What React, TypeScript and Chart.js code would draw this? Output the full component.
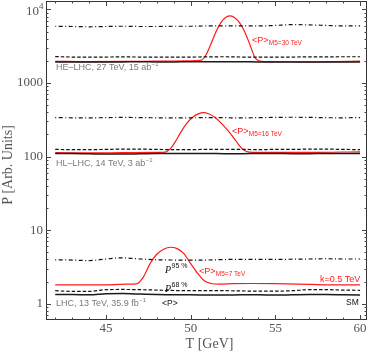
import React, { useEffect, useRef } from "react";
import { Chart, registerables } from "chart.js";

Chart.register(...registerables);

// ---------- data ----------
const T_GRID = [42, 43, 44, 45, 46, 47, 48, 49, 50, 51, 52, 53, 54, 55, 56, 57, 58, 59, 60];

// LHC, 13 TeV
const LHC_MEAN = [1.33, 1.33, 1.32, 1.36, 1.37, 1.35, 1.33, 1.32, 1.32, 1.31, 1.31, 1.32, 1.32, 1.31, 1.32, 1.33, 1.33, 1.32, 1.31];
const LHC_P68 = [1.5, 1.47, 1.47, 1.55, 1.56, 1.55, 1.53, 1.51, 1.5, 1.5, 1.5, 1.49, 1.48, 1.48, 1.5, 1.55, 1.55, 1.53, 1.52];
const LHC_P95 = [3.95, 3.92, 3.85, 4.05, 4.2, 4.05, 3.95, 3.92, 3.9, 3.92, 3.98, 4.0, 4.0, 4.0, 4.02, 4.05, 4.08, 4.05, 4.05];
const LHC_M5_T = [42, 44, 45.5, 46.2, 46.8, 47.2, 47.6, 48.0, 48.4, 48.8, 49.2, 49.6, 50.0, 50.4, 50.8, 51.2, 51.7, 52.5, 53.5, 55, 57, 58.5, 60];
const LHC_M5 = [1.8, 1.8, 1.82, 1.84, 1.86, 2.3, 3.5, 4.7, 5.5, 5.85, 5.6, 4.8, 3.5, 2.6, 2.05, 1.88, 1.84, 1.87, 1.88, 1.87, 1.83, 1.8, 1.8];

// HL-LHC, 14 TeV
const HL_MEAN = [110, 110, 109, 108, 108, 109, 110, 110, 110, 110, 109, 109, 110, 110, 109, 109, 110, 110, 110];
const HL_P68 = [125, 124, 124, 125, 126, 126, 125, 124, 124, 125, 125, 125, 124, 125, 125, 126, 126, 125, 124];
const HL_P95 = [338, 336, 335, 338, 340, 338, 336, 335, 336, 338, 337, 335, 338, 340, 342, 340, 337, 336, 338];
const HL_M5_T = [42, 44, 46, 48, 48.5, 48.8, 49.1, 49.4, 49.75, 50.1, 50.45, 50.75, 51.05, 51.4, 51.8, 52.3, 52.7, 53.0, 53.3, 53.7, 55, 57, 60];
const HL_M5 = [113, 112, 113, 114, 115, 128, 160, 211, 280, 340, 380, 394, 382, 345, 285, 211, 160, 130, 117, 114, 114, 114, 116];

// HE-LHC, 27 TeV
const HE_MEAN = [1930, 1930, 1920, 1920, 1930, 1940, 1930, 1930, 1940, 1940, 1940, 1940, 1930, 1930, 1920, 1920, 1930, 1930, 1920];
const HE_P68 = [2280, 2250, 2240, 2250, 2260, 2250, 2240, 2250, 2250, 2260, 2270, 2250, 2240, 2250, 2250, 2260, 2260, 2270, 2270];
const HE_P95 = [5900, 5850, 5800, 5850, 5900, 5850, 5850, 5900, 5900, 5950, 5950, 5950, 5950, 6050, 6200, 6150, 6050, 5950, 5950];
const HE_M5_T = [42, 44, 46, 48, 50, 50.6, 50.9, 51.2, 51.5, 51.8, 52.1, 52.35, 52.6, 52.9, 53.2, 53.5, 53.8, 54.2, 55, 57, 58.5, 60];
const HE_M5 = [1970, 1950, 1960, 1980, 2000, 2030, 2400, 3400, 5000, 6700, 7900, 8150, 7700, 6500, 4900, 3300, 2200, 1970, 1950, 1930, 1950, 1980];

const X_TICKS = [45, 50, 55, 60];
const Y_TICKS = [1, 10, 100, 1000, 10000];

const X_MIN = 41.456;
const X_MAX = 60.41;
const Y_MIN = 0.627;
const Y_MAX = 12995;

const pts = (xs: number[], ys: number[]) => xs.map((x, i) => ({ x, y: ys[i] }));

const SERIF = '"Liberation Serif", "DejaVu Serif", serif';
const SANS = '"Liberation Sans", Arial, sans-serif';

function lineDs(data: { x: number; y: number }[], kind: string) {
  const base: any = {
    data,
    pointRadius: 0,
    fill: false,
    cubicInterpolationMode: "monotone",
    borderCapStyle: "butt",
  };
  if (kind === "mean") return { ...base, borderColor: "#1a1a1a", borderWidth: 1.5 };
  if (kind === "p68") return { ...base, borderColor: "#111", borderWidth: 1.2, borderDash: [3.5, 2] };
  if (kind === "p95") return { ...base, borderColor: "#111", borderWidth: 1.2, borderDash: [1, 2.5, 4, 2.5] };
  return { ...base, borderColor: "#ff1a1a", borderWidth: 1.2 };
}

const framePlugin = {
  id: "framePlugin",
  afterDraw(chart: any) {
    const { ctx, chartArea: a, scales } = chart;
    const xs = scales.x;
    const ys = scales.y;
    ctx.save();
    // frame
    ctx.strokeStyle = "#333";
    ctx.lineWidth = 1;
    ctx.setLineDash([]);
    ctx.strokeRect(a.left + 0.5, a.top + 0.5, a.right - a.left - 1, a.bottom - a.top - 1);

    // x ticks (inside, bottom and top)
    ctx.strokeStyle = "#444";
    for (let t = 42; t <= 60; t++) {
      const px = Math.round(xs.getPixelForValue(t)) + 0.5;
      const len = t % 5 === 0 ? 5 : 2.5;
      ctx.beginPath();
      ctx.moveTo(px, a.bottom);
      ctx.lineTo(px, a.bottom - len);
      ctx.moveTo(px, a.top);
      ctx.lineTo(px, a.top + len);
      ctx.stroke();
    }
    // y ticks (log)
    for (let d = -1; d <= 4; d++) {
      for (let k = 1; k <= 9; k++) {
        const v = k * Math.pow(10, d);
        if (v < Y_MIN || v > Y_MAX) continue;
        const py = Math.round(ys.getPixelForValue(v)) + 0.5;
        const len = k === 1 ? 5 : 2.5;
        ctx.beginPath();
        ctx.moveTo(a.left, py);
        ctx.lineTo(a.left + len, py);
        ctx.moveTo(a.right, py);
        ctx.lineTo(a.right - len, py);
        ctx.stroke();
      }
    }

    // tick labels
    ctx.fillStyle = "#555";
    ctx.font = `13px ${SERIF}`;
    ctx.textBaseline = "middle";
    ctx.textAlign = "center";
    X_TICKS.forEach((t) => {
      ctx.fillText(String(t), xs.getPixelForValue(t), a.bottom + 9);
    });
    ctx.textAlign = "right";
    Y_TICKS.forEach((v) => {
      const py = ys.getPixelForValue(v);
      if (v === 10000) {
        ctx.font = `13px ${SERIF}`;
        ctx.fillText("10", a.left - 7, py + 2);
        ctx.font = `9px ${SERIF}`;
        ctx.textAlign = "left";
        ctx.fillText("4", a.left - 7, py - 3);
        ctx.textAlign = "right";
      } else {
        ctx.font = `13px ${SERIF}`;
        ctx.fillText(String(v), a.left - 3, py);
      }
    });

    // axis titles
    ctx.font = `14px ${SERIF}`;
    ctx.textAlign = "center";
    ctx.fillText("T [GeV]", (a.left + a.right) / 2 + 3, a.bottom + 24);
    ctx.save();
    ctx.translate(8, 165);
    ctx.rotate(-Math.PI / 2);
    ctx.fillText("P [Arb. Units]", 0, 0);
    ctx.restore();

    // annotations
    ctx.textAlign = "left";
    ctx.textBaseline = "middle";
    const withSup = (main: string, sup: string, x: number, y: number, color: string) => {
      ctx.fillStyle = color;
      ctx.font = `9px ${SANS}`;
      ctx.fillText(main, x, y);
      const w = ctx.measureText(main).width;
      ctx.font = `6px ${SANS}`;
      ctx.fillText(sup, x + w + 0.5, y - 3.5);
    };
    withSup("HE\u2013LHC, 27 TeV, 15 ab", "\u22121", 56, 68, "#7a7a7a");
    withSup("HL\u2013LHC, 14 TeV, 3 ab", "\u22121", 56, 164, "#7a7a7a");
    withSup("LHC, 13 TeV, 35.9 fb", "\u22121", 56, 304, "#7a7a7a");

    const withSub = (main: string, sub: string, x: number, y: number) => {
      ctx.fillStyle = "#ff1a1a";
      ctx.font = `9px ${SANS}`;
      ctx.fillText(main, x, y);
      const w = ctx.measureText(main).width;
      ctx.font = `6.5px ${SANS}`;
      ctx.fillText(sub, x + w + 0.3, y + 2.5);
    };
    withSub("<P>", "M5=30 TeV", 252, 41);
    withSub("<P>", "M5=16 TeV", 232, 132);
    withSub("<P>", "M5=7 TeV", 199, 272);

    ctx.fillStyle = "#ff1a1a";
    ctx.font = `9px ${SANS}`;
    ctx.fillText("k=0.5 TeV", 320, 280);

    ctx.fillStyle = "#111";
    ctx.font = `8.5px ${SANS}`;
    ctx.fillText("SM", 346, 303);
    ctx.fillText("<P>", 162, 304);

    const pLabel = (sup: string, x: number, y: number) => {
      ctx.fillStyle = "#111";
      ctx.font = `italic 10px ${SERIF}`;
      ctx.fillText("P", x, y);
      const w = ctx.measureText("P").width;
      ctx.font = `7px ${SANS}`;
      ctx.fillText(sup, x + w + 0.5, y - 4);
    };
    pLabel("95 %", 165, 270);
    pLabel("68 %", 165, 289);

    ctx.restore();
  },
};

export default function App() {
  const ref = useRef<HTMLCanvasElement>(null);
  useEffect(() => {
    const canvas = ref.current;
    if (!canvas) return;
    const datasets: any[] = [
      lineDs(pts(T_GRID, LHC_P95), "p95"),
      lineDs(pts(T_GRID, LHC_P68), "p68"),
      lineDs(pts(T_GRID, LHC_MEAN), "mean"),
      lineDs(pts(LHC_M5_T, LHC_M5), "m5"),
      lineDs(pts(T_GRID, HL_P95), "p95"),
      lineDs(pts(T_GRID, HL_P68), "p68"),
      lineDs(pts(T_GRID, HL_MEAN), "mean"),
      lineDs(pts(HL_M5_T, HL_M5), "m5"),
      lineDs(pts(T_GRID, HE_P95), "p95"),
      lineDs(pts(T_GRID, HE_P68), "p68"),
      lineDs(pts(T_GRID, HE_MEAN), "mean"),
      lineDs(pts(HE_M5_T, HE_M5), "m5"),
    ];
    const chart = new Chart(canvas, {
      type: "line",
      data: { datasets },
      options: {
        responsive: false,
        animation: false,
        devicePixelRatio: 1,
        layout: { padding: { top: 1, right: 3, left: 0, bottom: 0 } },
        plugins: { legend: { display: false }, tooltip: { enabled: false } },
        scales: {
          x: {
            type: "linear",
            min: X_MIN,
            max: X_MAX,
            grid: { display: false, drawTicks: false },
            border: { display: false },
            ticks: { display: false },
            afterFit: (s: any) => {
              s.height = 34;
            },
          },
          y: {
            type: "logarithmic",
            min: Y_MIN,
            max: Y_MAX,
            grid: { display: false, drawTicks: false },
            border: { display: false },
            ticks: { display: false },
            afterFit: (s: any) => {
              s.width = 46;
            },
          },
        },
      } as any,
      plugins: [framePlugin],
    });
    return () => chart.destroy();
  }, []);
  return (
    <div style={{ position: "fixed", left: 0, top: 0, width: 370, height: 354, background: "#fff" }}>
      <canvas ref={ref} width={370} height={354} style={{ display: "block" }} />
    </div>
  );
}
